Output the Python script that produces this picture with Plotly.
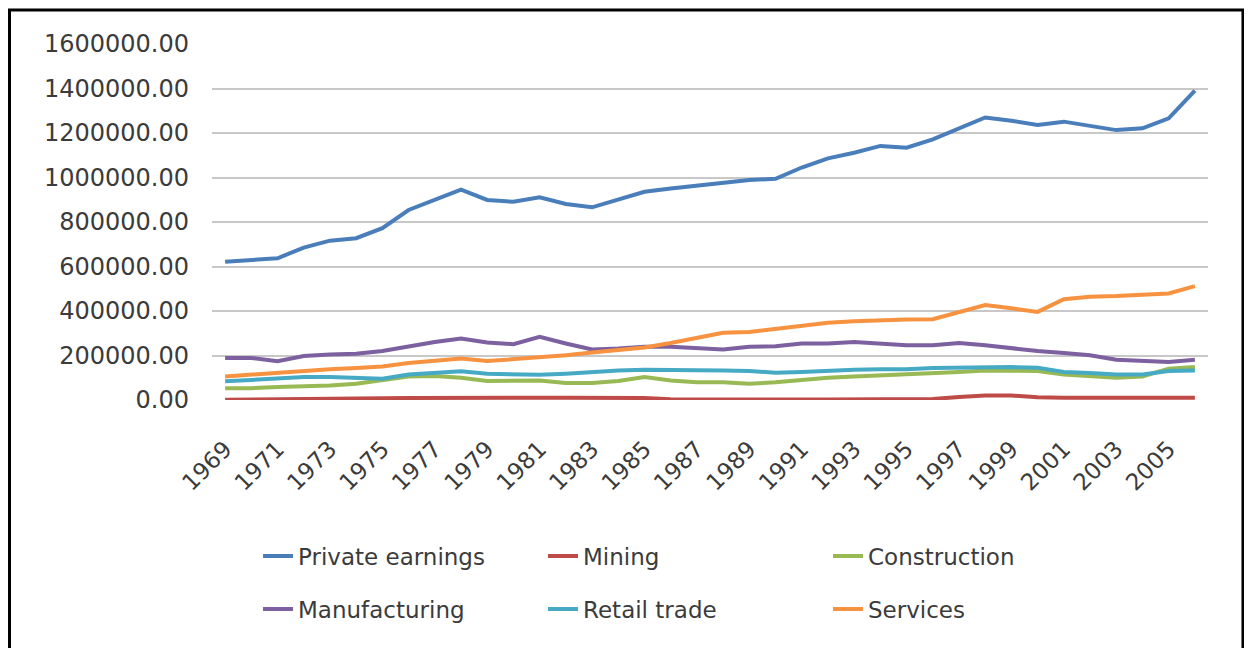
import plotly.graph_objects as go

years = [str(y) for y in range(1969, 2007)]
tick_years = [str(y) for y in range(1969, 2006, 2)]

private_earnings = [621000, 629000, 637000, 685000, 716000, 727000, 772000, 854000, 899000, 945000,
                    899000, 891000, 911000, 881000, 866000, 902000, 936000, 951000, 963000, 977000,
                    989000, 994000, 1045000, 1086000, 1111000, 1142000, 1134000, 1171000, 1221000, 1270000,
                    1255000, 1236000, 1251000, 1231000, 1213000, 1221000, 1266000, 1390000]
mining = [1000, 1500, 4000, 5000, 6000, 7000, 8000, 9000, 10000, 10000,
          10000, 10000, 10000, 10000, 10000, 10000, 9000, 3000, 2000, 2000,
          2000, 2000, 2000, 2000, 3000, 3000, 3000, 4000, 14000, 20000,
          20000, 12000, 10000, 10000, 10000, 10000, 10000, 10000]
construction = [53000, 53000, 58000, 61000, 65000, 73000, 88000, 106000, 108000, 100000,
                85000, 85000, 88000, 76000, 76000, 85000, 103000, 88000, 80000, 80000,
                73000, 80000, 91000, 100000, 106000, 110000, 115000, 121000, 126000, 133000,
                133000, 130000, 115000, 106000, 100000, 106000, 141000, 148000]
manufacturing = [189000, 189000, 174000, 198000, 205000, 208000, 220000, 242000, 261000, 276000,
                 258000, 251000, 284000, 254000, 227000, 231000, 239000, 239000, 231000, 227000,
                 239000, 242000, 254000, 254000, 261000, 254000, 246000, 246000, 256000, 246000,
                 231000, 220000, 211000, 201000, 181000, 178000, 171000, 181000]
retail_trade = [84000, 91000, 100000, 103000, 103000, 100000, 96000, 115000, 123000, 129000,
                118000, 115000, 113000, 118000, 126000, 133000, 136000, 136000, 133000, 133000,
                130000, 123000, 126000, 133000, 136000, 138000, 138000, 144000, 145000, 148000,
                148000, 145000, 126000, 121000, 115000, 115000, 130000, 133000]
services = [106000, 114000, 123000, 133000, 138000, 144000, 151000, 166000, 175000, 186000,
            175000, 183000, 190000, 201000, 213000, 223000, 236000, 256000, 281000, 302000,
            306000, 321000, 336000, 347000, 354000, 359000, 362000, 363000, 396000, 427000,
            412000, 396000, 453000, 464000, 467000, 472000, 479000, 512000]

series = [
    ("Private earnings", private_earnings, "#4A7EBB", "legend"),
    ("Mining", mining, "#BE4B48", "legend"),
    ("Construction", construction, "#98B954", "legend"),
    ("Manufacturing", manufacturing, "#7D60A0", "legend2"),
    ("Retail trade", retail_trade, "#46AAC5", "legend2"),
    ("Services", services, "#F69240", "legend2"),
]

FONT = "DejaVu Sans"
TEXT = "#3b3b3b"

fig = go.Figure()
for name, vals, color, leg in series:
    fig.add_trace(go.Scatter(
        x=years, y=vals, name=name, mode="lines",
        line=dict(color=color, width=4),
        legend=leg
    ))

legend_style = dict(
    orientation="h",
    xanchor="left", yanchor="middle",
    entrywidth=240,
    font=dict(family=FONT, size=23, color=TEXT),
    bgcolor="rgba(0,0,0,0)"
)

# the page body adds an 8px offset, so margins are trimmed by that much
fig.update_layout(
    width=1252,
    height=648,
    margin=dict(l=204, r=52, t=36, b=256),
    paper_bgcolor="white",
    plot_bgcolor="white",
    font=dict(family=FONT, color=TEXT),
    xaxis=dict(
        type="category",
        range=[-0.5, len(years) - 0.5],
        tickvals=tick_years,
        ticktext=tick_years,
        tickangle=-45,
        tickfont=dict(family=FONT, size=23, color=TEXT),
        ticklabelstandoff=30,
        showgrid=False,
        showline=False,
        zeroline=False,
        ticks=""
    ),
    yaxis=dict(
        range=[0, 1600000],
        dtick=200000,
        tickformat=".2f",
        tickfont=dict(family=FONT, size=24, color=TEXT),
        showgrid=True,
        gridcolor="#c8c8c8",
        gridwidth=2,
        zeroline=False,
        ticks="",
        ticklabelstandoff=22
    ),
    legend=dict(x=0.0462, y=-0.438, **legend_style),
    legend2=dict(x=0.0462, y=-0.587, **legend_style),
)

# outer frame of the chart
fig.add_shape(type="rect", xref="paper", yref="paper",
              x0=-0.2033, x1=1.0351, y0=-0.75, y1=1.0955,
              line=dict(color="black", width=3), layer="below")

fig.write_html("out.html")
